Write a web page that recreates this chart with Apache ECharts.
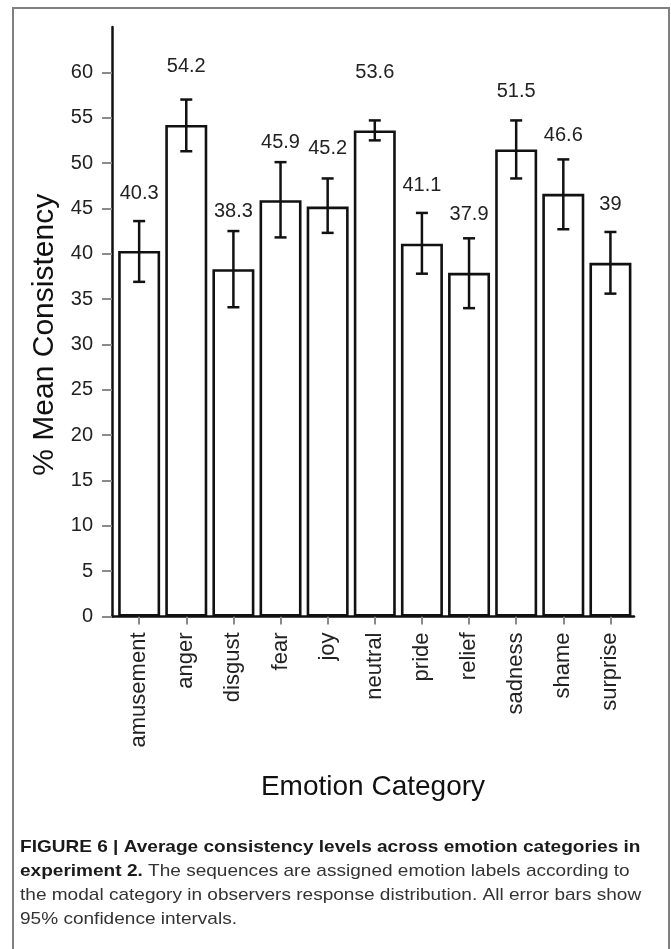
<!DOCTYPE html>
<html>
<head>
<meta charset="utf-8">
<title>Average consistency levels across emotion categories</title>
<script src="https://cdn.jsdelivr.net/npm/echarts@6/dist/echarts.min.js"></script>
<style>
  html, body { margin: 0; padding: 0; background: #ffffff; }
  #chart { width: 671px; height: 949px; }
</style>
</head>
<body>
<div id="chart"></div>
<script>
// Emotion categories (x axis)
const categories = ['amusement', 'anger', 'disgust', 'fear', 'joy', 'neutral',
                    'pride', 'relief', 'sadness', 'shame', 'surprise'];
// Mean consistency (%) per category
const meanValues = [40.3, 54.2, 38.3, 45.9, 45.2, 53.6, 41.1, 37.9, 51.5, 46.6, 39];
// 95% confidence interval bounds
const ciLower = [36.9, 51.3, 34.1, 41.8, 42.3, 52.5, 37.8, 34.0, 48.3, 42.7, 35.6];
const ciUpper = [43.6, 57.0, 42.5, 50.1, 48.3, 54.7, 44.5, 41.7, 54.7, 50.4, 42.4];
// Y axis tick labels
const yTicks = [0, 5, 10, 15, 20, 25, 30, 35, 40, 45, 50, 55, 60];

const FONT = '"Liberation Sans", Arial, Helvetica, sans-serif';
const positions = categories.map((c, i) => i);

const chart = echarts.init(document.getElementById('chart'), null, { renderer: 'canvas' });

const captionBold = { fontFamily: FONT, fontSize: 17, fontWeight: 'bold', fill: '#1a1a1a' };
const captionNormal = { fontFamily: FONT, fontSize: 17, fill: '#333' };
const CAPTION_STRETCH = 1.12;

const option = {
  backgroundColor: '#ffffff',
  animation: false,
  grid: { left: 112, right: 37, top: 27, bottom: 332.5, containLabel: false },
  xAxis: {
    type: 'value',
    min: -0.576,
    max: 10.5,
    splitLine: { show: false },
    axisLine: { show: true, onZero: false, lineStyle: { color: '#111', width: 2.5 } },
    axisTick: {
      show: true,
      customValues: positions,
      length: 8,
      lineStyle: { color: '#8a8a8a', width: 2 }
    },
    axisLabel: {
      customValues: positions,
      rotate: 90,
      margin: 16,
      fontFamily: FONT,
      fontSize: 22,
      color: '#222',
      formatter: v => categories[Math.round(v)]
    },
    name: 'Emotion Category',
    nameLocation: 'middle',
    nameGap: 157,
    nameTextStyle: { fontFamily: FONT, fontSize: 28, color: '#111', verticalAlign: 'top' }
  },
  yAxis: {
    type: 'value',
    min: 0,
    max: 65,
    interval: 5,
    splitLine: { show: false },
    axisLine: { show: true, onZero: false, lineStyle: { color: '#111', width: 2.5 } },
    axisTick: {
      show: true,
      customValues: yTicks,
      length: 10,
      lineStyle: { color: '#8a8a8a', width: 2 }
    },
    axisLabel: {
      customValues: yTicks,
      margin: 19,
      fontFamily: FONT,
      fontSize: 20,
      color: '#222'
    },
    name: '% Mean Consistency',
    nameLocation: 'middle',
    nameGap: 52,
    nameRotate: 90,
    nameTextStyle: { fontFamily: FONT, fontSize: 30, color: '#111', padding: [0, 26, 0, 0] }
  },
  series: [
    {
      type: 'bar',
      data: positions.map(i => [i, meanValues[i]]),
      barWidth: 42,
      itemStyle: { color: '#ffffff', borderColor: '#111', borderWidth: 2.6 },
      label: {
        show: true,
        position: 'top',
        distance: 48,
        fontFamily: FONT,
        fontSize: 20,
        color: '#222',
        formatter: p => String(meanValues[p.dataIndex])
      },
      z: 2
    },
    {
      type: 'custom',
      data: positions.map(i => [i, ciLower[i], ciUpper[i]]),
      renderItem: function (params, api) {
        const x = api.value(0);
        const lo = api.coord([x, api.value(1)]);
        const hi = api.coord([x, api.value(2)]);
        const half = 6;
        const style = { stroke: '#111', lineWidth: 2.5, fill: null };
        return {
          type: 'group',
          children: [
            { type: 'line', shape: { x1: hi[0], y1: hi[1], x2: lo[0], y2: lo[1] }, style: style },
            { type: 'line', shape: { x1: hi[0] - half, y1: hi[1], x2: hi[0] + half, y2: hi[1] }, style: style },
            { type: 'line', shape: { x1: lo[0] - half, y1: lo[1], x2: lo[0] + half, y2: lo[1] }, style: style }
          ]
        };
      },
      z: 3
    }
  ],
  graphic: [
    {
      type: 'rect',
      shape: { x: 13, y: 8, width: 656, height: 960 },
      style: { fill: null, stroke: '#808080', lineWidth: 2 },
      silent: true
    },
    {
      type: 'text', x: 20, y: 839, scaleX: CAPTION_STRETCH,
      style: {
        text: '{b|FIGURE 6 | Average consistency levels across emotion categories in}',
        rich: { b: captionBold }
      }
    },
    {
      type: 'text', x: 20, y: 863, scaleX: CAPTION_STRETCH,
      style: {
        text: '{b|experiment 2.}{n| The sequences are assigned emotion labels according to}',
        rich: { b: captionBold, n: captionNormal }
      }
    },
    {
      type: 'text', x: 20, y: 887, scaleX: CAPTION_STRETCH,
      style: {
        text: 'the modal category in observers response distribution. All error bars show',
        fontFamily: FONT, fontSize: 17, fill: '#333'
      }
    },
    {
      type: 'text', x: 20, y: 911, scaleX: CAPTION_STRETCH,
      style: {
        text: '95% confidence intervals.',
        fontFamily: FONT, fontSize: 17, fill: '#333'
      }
    }
  ]
};

chart.setOption(option);
</script>
</body>
</html>
